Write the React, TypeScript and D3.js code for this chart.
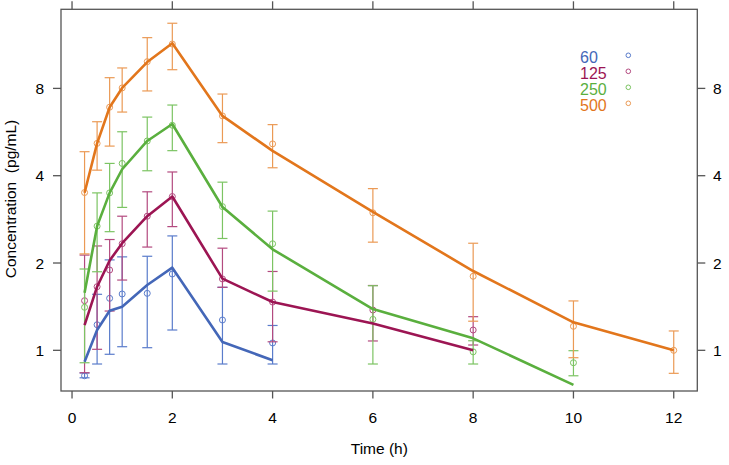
import React from "react";
import * as d3 from "d3";

const times = [0.25, 0.5, 0.75, 1, 1.5, 2, 3, 4, 6, 8, 10, 12];
const doses = ["60", "125", "250", "500"];
const xTicks = [0, 2, 4, 6, 8, 10, 12];
const yTicks = [1, 2, 4, 8];

const line60 = [0.913, 1.175, 1.369, 1.414, 1.68, 1.927, 1.068, 0.924];
const obs60 = [0.817, 1.225, 1.511, 1.564, 1.572, 1.833, 1.272, 1.06];
const lo60 = [0.804, 0.897, 0.969, 1.029, 1.021, 1.175, 0.897, 0.897];
const hi60 = [0.835, 1.56, 2.05, 2.1, 2.11, 2.48, 1.649, 1.218];

const line125 = [1.222, 1.657, 2.04, 2.34, 2.9, 3.39, 1.766, 1.467, 1.237, 1.0];
const obs125 = [1.483, 1.657, 1.892, 2.33, 2.9, 3.39, 1.762, 1.467, 1.377, 1.175];
const lo125 = [0.837, 1.008, 1.366, 1.747, 2.27, 2.67, 1.649, 1.07, 1.077, 1.043];
const hi125 = [2.13, 2.29, 2.41, 2.9, 3.52, 4.12, 2.25, 1.87, 1.673, 1.306];

const line250 = [1.58, 2.68, 3.49, 4.21, 5.27, 6.03, 3.12, 2.23, 1.388, 1.1, 0.76];
const obs250 = [1.407, 2.68, 3.49, 4.41, 5.27, 5.97, 3.13, 2.33, 1.279, 0.988, 0.906];
const lo250 = [0.906, 1.866, 2.565, 3.11, 4.16, 4.88, 2.43, 1.6, 0.897, 0.897, 0.817];
const hi250 = [1.907, 3.49, 4.41, 5.67, 6.37, 7.01, 3.8, 3.02, 1.67, 1.079, 0.997];

const line500 = [3.494, 5.17, 6.89, 8.03, 9.86, 11.45, 6.43, 4.87, 3.0, 1.877, 1.249, 1.0];
const obs500 = [3.5, 5.17, 6.89, 8.03, 9.89, 11.38, 6.43, 5.15, 2.98, 1.8, 1.21, 1.0];
const lo500 = [2.15, 4.18, 5.06, 6.63, 7.84, 9.28, 5.2, 4.26, 2.36, 1.26, 0.943, 0.833];
const hi500 = [4.84, 6.14, 8.71, 9.41, 11.97, 13.42, 7.65, 6.0, 3.61, 2.34, 1.48, 1.166];

const lineColors = ["#4467b8", "#9c1553", "#5aaf3e", "#e2761c"];
const lightColors = ["#5a7ccb", "#b34a7f", "#7cc463", "#eb9a55"];

const series = [
  { line: line60, obs: obs60, lo: lo60, hi: hi60 },
  { line: line125, obs: obs125, lo: lo125, hi: hi125 },
  { line: line250, obs: obs250, lo: lo250, hi: hi250 },
  { line: line500, obs: obs500, lo: lo500, hi: hi500 },
];

const W = 729;
const H = 465;
const L = 61, R = 697.3, T = 9.3, B = 391;

export default function App() {
  const x = d3.scaleLinear().domain([-0.22, 12.47]).range([L, R]);
  const y = d3
    .scaleLog()
    .base(2)
    .domain([Math.pow(2, -0.466), Math.pow(2, 3.906)])
    .range([B, T]);
  const lineGen = d3
    .line<number>()
    .x((_, i) => x(times[i]))
    .y((v) => y(v));
  const font = "Liberation Sans, Arial, sans-serif";
  const cap = 5;
  return (
    <svg
      width={W}
      height={H}
      style={{ position: "absolute", left: 0, top: 0, background: "#fff" }}
      fontFamily={font}
    >
      <rect x={0} y={0} width={W} height={H} fill="#fff" />
      {series.map((s, k) => (
        <g key={"bars" + k} stroke={lightColors[k]} fill="none" strokeWidth={1.2}>
          {s.obs.map((v, i) => {
            const cx = x(times[i]);
            return (
              <g key={i}>
                <line x1={cx} x2={cx} y1={y(s.lo[i])} y2={y(s.hi[i])} />
                <line x1={cx - cap} x2={cx + cap} y1={y(s.lo[i])} y2={y(s.lo[i])} />
                <line x1={cx - cap} x2={cx + cap} y1={y(s.hi[i])} y2={y(s.hi[i])} />
                <circle cx={cx} cy={y(v)} r={3} strokeWidth={1} />
              </g>
            );
          })}
        </g>
      ))}
      {series.map((s, k) => (
        <path
          key={"line" + k}
          d={lineGen(s.line) || ""}
          fill="none"
          stroke={lineColors[k]}
          strokeWidth={2.6}
          strokeLinejoin="round"
        />
      ))}
      <rect x={L} y={T} width={R - L} height={B - T} fill="none" stroke="#555" strokeWidth={1.3} />
      {xTicks.map((t) => (
        <g key={"xt" + t}>
          <line x1={x(t)} x2={x(t)} y1={B} y2={B + 7.5} stroke="#555" strokeWidth={1.3} />
          <line x1={x(t)} x2={x(t)} y1={T} y2={T - 8} stroke="#555" strokeWidth={1.3} />
          <text x={x(t)} y={423} textAnchor="middle" fontSize={15.5} fill="#000">
            {t}
          </text>
        </g>
      ))}
      {yTicks.map((t) => (
        <g key={"yt" + t}>
          <line x1={L} x2={L - 8} y1={y(t)} y2={y(t)} stroke="#555" strokeWidth={1.3} />
          <line x1={R} x2={R + 8} y1={y(t)} y2={y(t)} stroke="#555" strokeWidth={1.3} />
          <text x={44} y={y(t) + 5.5} textAnchor="end" fontSize={15.5} fill="#000">
            {t}
          </text>
          <text x={713} y={y(t) + 5.5} textAnchor="start" fontSize={15.5} fill="#000">
            {t}
          </text>
        </g>
      ))}
      <text x={379.3} y={454} textAnchor="middle" fontSize={15.5} fill="#000">
        Time (h)
      </text>
      <text
        transform="translate(15.5,199) rotate(-90)"
        textAnchor="middle"
        fontSize={15.5}
        fill="#000"
        xmlSpace="preserve"
        style={{ whiteSpace: "pre" }}
      >
        {"Concentration  (pg/mL)"}
      </text>
      {doses.map((d, i) => (
        <g key={"lg" + d}>
          <text x={580} y={62.8 + 16 * i} fontSize={16} fill={lineColors[i]}>
            {d}
          </text>
          <circle cx={628.3} cy={55.3 + 16 * i} r={2.3} fill="none" stroke={lightColors[i]} strokeWidth={1} />
        </g>
      ))}
    </svg>
  );
}
